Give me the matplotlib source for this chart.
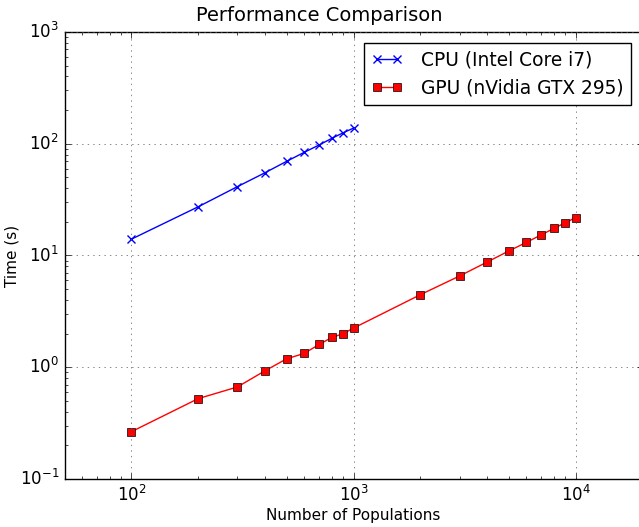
"""
Comparación de rendimiento CPU vs GPU (escala log-log).
"""

import matplotlib
matplotlib.use('Agg')
import matplotlib.pyplot as plt

plt.style.use('classic')

# Número de poblaciones y tiempos medidos (s)
pob_cpu = [100, 200, 300, 400, 500, 600, 700, 800, 900, 1000]
t_cpu = [14.0, 27.3, 41.3, 55.1, 69.6, 83.8, 97.5, 112.0, 125.6, 138.0]

pob_gpu = [100, 200, 300, 400, 500, 600, 700, 800, 900, 1000,
           2000, 3000, 4000, 5000, 6000, 7000, 8000, 9000, 10000]
t_gpu = [0.265, 0.524, 0.666, 0.931, 1.19, 1.33, 1.60, 1.85, 2.0, 2.24,
         4.46, 6.55, 8.75, 10.97, 13.1, 15.3, 17.5, 19.7, 21.8]

fig = plt.figure(figsize=(6.39, 5.27), dpi=100, facecolor='white')
ax = fig.add_axes([0.101, 0.0911, 0.9045, 0.8482])

ax.loglog(pob_cpu, t_cpu, 'bx-', markersize=6, markeredgewidth=1.0,
          label='CPU (Intel Core i7)')
ax.loglog(pob_gpu, t_gpu, 'rs-', markersize=5.5, markeredgecolor='k',
          label='GPU (nVidia GTX 295)')

ax.set_xlim(50, 20000)
ax.set_ylim(0.1, 1000)
ax.grid(True, color='0.35')
ax.set_xlabel('Number of Populations', fontsize=11)
ax.set_ylabel('Time (s)', fontsize=11)
ax.xaxis.set_label_coords(0.5, -0.064)
ax.yaxis.set_label_coords(-0.078, 0.5)
ax.legend(loc='upper right', numpoints=2, fontsize=13.4, handlelength=1.7,
          handletextpad=1.0, borderaxespad=0.6)

# título centrado en la figura
fig.text(0.5, 0.9715, 'Performance Comparison', ha='center', va='center',
         fontsize=14)

fig.savefig('out.png', dpi=100, facecolor='white')
